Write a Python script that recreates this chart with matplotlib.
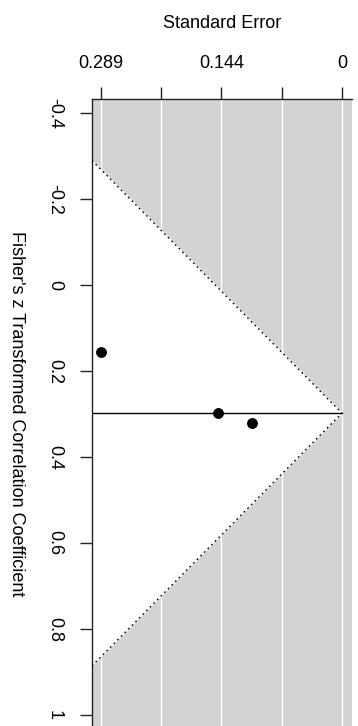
import matplotlib.pyplot as plt
import numpy as np

# studies: standard error and Fisher's z
se = [0.289, 0.149, 0.108]
zr = [0.156, 0.298, 0.321]
estimate = 0.298

se_ticks = [0.289, 0.21675, 0.1445, 0.07225, 0.0]
se_labels = ["0.289", "", "0.144", "", "0"]
z_ticks = [-0.4, -0.2, 0.0, 0.2, 0.4, 0.6, 0.8, 1.0]
z_labels = ["-0.4", "-0.2", "0", "0.2", "0.4", "0.6", "0.8", "1"]

plt.rcParams["font.family"] = ["Liberation Sans", "DejaVu Sans"]

W, H = 358, 726
fig = plt.figure(figsize=(W / 100, H / 100), dpi=100)
ax = fig.add_axes([92 / W, 0, 260 / W, (H - 99) / H])

se_lo, se_hi = -0.012, 0.2998
z_top = -0.4326
z_bot = z_top + (H - 99) / 430.0

ax.set_xlim(se_hi, se_lo)
ax.set_ylim(z_bot, z_top)
ax.set_facecolor("#D3D3D3")

for t in se_ticks:
    ax.axvline(t, color="white", lw=1.0, zorder=1)

half = 1.96 * se_hi
ax.fill([se_hi, 0, se_hi], [estimate - half, estimate, estimate + half],
        color="white", zorder=2)
ax.plot([se_hi, 0, se_hi], [estimate - half, estimate, estimate + half],
        color="black", ls=(0, (1.2, 2.5)), lw=1.0, zorder=3)
ax.plot([se_hi, 0], [estimate, estimate], color="black", lw=1.0, zorder=3)

ax.plot(se, zr, "o", color="black", ms=6.8, zorder=4)

ax.xaxis.tick_top()
ax.set_xticks(se_ticks)
ax.set_xticklabels(se_labels)
ax.set_yticks(z_ticks)
ax.set_yticklabels(z_labels, rotation=-90, va="center")
ax.tick_params(axis="both", length=8.3, width=1.0, labelsize=13,
               color="#222222")
ax.tick_params(axis="x", pad=11)
ax.tick_params(axis="y", pad=12.5)
for side in ["right", "bottom"]:
    ax.spines[side].set_visible(False)
for side in ["left", "top"]:
    ax.spines[side].set_linewidth(1.0)
    ax.spines[side].set_color("#222222")

fig.text(222 / W, 1 - 24 / H, "Standard Error", ha="center", va="center",
         fontsize=13)
fig.text(16 / W, 1 - 414 / H, "Fisher's z Transformed Correlation Coefficient",
         ha="center", va="center", rotation=-90, fontsize=13)

fig.savefig("out.png", dpi=100)
